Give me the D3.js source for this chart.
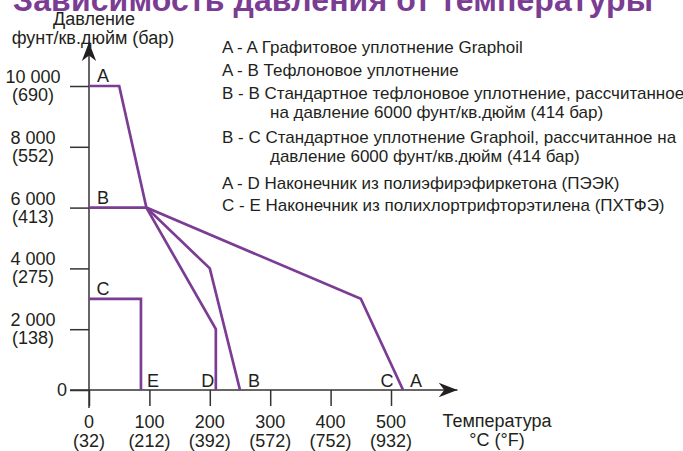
<!DOCTYPE html>
<html lang="ru">
<head>
    <meta charset="UTF-8">
    <title>Зависимость давления от температуры</title>
    <script src="https://d3js.org/d3.v7.min.js"></script>
    <style>
        body { margin: 0; background: #fff; }
        svg text { font-family: "Liberation Sans", Arial, sans-serif; fill: #231f20; }
    </style>
</head>
<body>
    <script>
        const width = 683;
        const height = 451;

        // температура, °C и °F
        const tempTicks = [0, 100, 200, 300, 400, 500];
        const tempTicksF = ["(32)", "(212)", "(392)", "(572)", "(752)", "(932)"];
        // давление, psi и бар
        const pressTicks = [0, 2000, 4000, 6000, 8000, 10000];
        const pressLabels = ["0", "2 000", "4 000", "6 000", "8 000", "10 000"];
        const pressTicksBar = ["", "(138)", "(275)", "(413)", "(552)", "(690)"];

        // кривые: [°C, psi]
        const curveAA = [[0, 10000], [50, 10000], [95, 6000], [450, 3000], [520, 0]];
        const curveBB = [[0, 6000], [95, 6000], [200, 4000], [250, 0]];
        const curveAD = [[95, 6000], [210, 2000], [210, 0]];
        const curveCE = [[0, 3000], [86, 3000], [86, 0]];
        const curves = [curveAA, curveBB, curveAD, curveCE];

        // буквы у начала кривых и у оси
        const startLabels = [["A", 0, 10000], ["B", 0, 6000], ["C", 0, 3000]];
        const endLabels = [["E", 86, 12], ["D", 210, -8], ["B", 250, 14], ["C", 520, -16], ["A", 520, 13]];

        const legendRows = [
            ["A - A Графитовое уплотнение Graphoil"],
            ["A - B Тефлоновое уплотнение"],
            ["B - B Стандартное тефлоновое уплотнение, рассчитанное", "на давление 6000 фунт/кв.дюйм (414 бар)"],
            ["B - C Стандартное уплотнение Graphoil, рассчитанное на", "давление 6000 фунт/кв.дюйм (414 бар)"],
            ["A - D Наконечник из полиэфирэфиркетона (ПЭЭК)"],
            ["C - E Наконечник из полихлортрифторэтилена (ПХТФЭ)"]
        ];

        const purple = "#7b3c94";
        const axisColor = "#333";

        const svg = d3.select("body").append("svg")
            .attr("width", width)
            .attr("height", height);

        const x = d3.scaleLinear().domain([0, 500]).range([89, 391]);
        const y = d3.scaleLinear().domain([0, 10000]).range([390, 86]);

        svg.append("defs").append("marker")
            .attr("id", "arrow")
            .attr("markerUnits", "userSpaceOnUse")
            .attr("markerWidth", 22).attr("markerHeight", 22)
            .attr("viewBox", "-18 -9 20 18")
            .attr("refX", 0).attr("refY", 0)
            .attr("orient", "auto")
            .append("path")
            .attr("d", "M0,0 L-17,-6.5 L-12,0 L-17,6.5 Z")
            .attr("fill", "#231f20");

        // заголовок, обрезанный сверху
        svg.append("text")
            .attr("x", 333).attr("y", 11)
            .attr("text-anchor", "middle")
            .attr("textLength", 640)
            .style("font-size", "32px")
            .style("font-weight", "bold")
            .style("fill", purple)
            .text("Зависимость давления от температуры");

        // оси
        const xAxis = d3.axisBottom(x).tickValues(tempTicks).tickSize(16).tickFormat("");
        const yAxis = d3.axisLeft(y).tickValues(pressTicks).tickSize(19).tickFormat("");

        const gx = svg.append("g").attr("transform", `translate(0,${y(0)})`).call(xAxis);
        const gy = svg.append("g").attr("transform", `translate(${x(0)},0)`).call(yAxis);
        gx.select(".domain").remove();
        gy.select(".domain").remove();
        svg.selectAll(".tick line").attr("stroke", axisColor).attr("stroke-width", 1.5);

        svg.append("line")
            .attr("x1", x(0) - 19).attr("x2", x(610))
            .attr("y1", y(0)).attr("y2", y(0))
            .attr("stroke", axisColor).attr("stroke-width", 1.5)
            .attr("marker-end", "url(#arrow)");
        svg.append("line")
            .attr("x1", x(0)).attr("x2", x(0))
            .attr("y1", y(0) + 18).attr("y2", y(11440))
            .attr("stroke", axisColor).attr("stroke-width", 1.5)
            .attr("marker-end", "url(#arrow)");

        // подписи оси X
        tempTicks.forEach((t, i) => {
            const tx = svg.append("text")
                .attr("text-anchor", "middle")
                .style("font-size", "18px");
            tx.append("tspan").attr("x", x(t)).attr("y", 428).text(t);
            tx.append("tspan").attr("x", x(t)).attr("y", 447).text(tempTicksF[i]);
        });

        // подписи оси Y
        pressTicks.forEach((p, i) => {
            if (!pressTicksBar[i]) {
                svg.append("text")
                    .attr("x", 67).attr("y", y(p) + 6)
                    .attr("text-anchor", "end")
                    .style("font-size", "18px")
                    .text(pressLabels[i]);
                return;
            }
            const ty = svg.append("text")
                .attr("text-anchor", "middle")
                .style("font-size", "18px");
            ty.append("tspan").attr("x", 33).attr("y", y(p) - 3).text(pressLabels[i]);
            ty.append("tspan").attr("x", 33).attr("y", y(p) + 15).text(pressTicksBar[i]);
        });

        // названия осей
        const yTitle = svg.append("text").attr("text-anchor", "middle").style("font-size", "18px");
        yTitle.append("tspan").attr("x", 94).attr("y", 25).text("Давление");
        yTitle.append("tspan").attr("x", 93).attr("y", 44).text("фунт/кв.дюйм (бар)");

        const xTitle = svg.append("text").attr("text-anchor", "middle").style("font-size", "18px");
        xTitle.append("tspan").attr("x", 497).attr("y", 427).text("Температура");
        xTitle.append("tspan").attr("x", 497).attr("y", 446).text("°C (°F)");

        // кривые
        const line = d3.line().x(d => x(d[0])).y(d => y(d[1]));
        svg.selectAll(".curve")
            .data(curves)
            .enter().append("path")
            .attr("class", "curve")
            .attr("d", line)
            .attr("fill", "none")
            .attr("stroke", purple)
            .attr("stroke-width", 2.7)
            .attr("stroke-linejoin", "miter");

        svg.selectAll(".start-label")
            .data(startLabels)
            .enter().append("text")
            .attr("class", "start-label")
            .attr("x", d => x(d[1]) + 14)
            .attr("y", d => y(d[2]) - 4)
            .attr("text-anchor", "middle")
            .style("font-size", "18px")
            .text(d => d[0]);

        svg.selectAll(".end-label")
            .data(endLabels)
            .enter().append("text")
            .attr("class", "end-label")
            .attr("x", d => x(d[1]) + d[2])
            .attr("y", y(0) - 3)
            .attr("text-anchor", "middle")
            .style("font-size", "18px")
            .text(d => d[0]);

        // легенда
        const rowY = [53, 76, 99, 143, 189, 211];
        legendRows.forEach((row, i) => {
            const t = svg.append("text").style("font-size", "17px");
            t.append("tspan").attr("x", 222).attr("y", rowY[i]).text(row[0]);
            if (row[1]) {
                t.append("tspan").attr("x", 270).attr("y", rowY[i] + 19).text(row[1]);
            }
        });
    </script>
</body>
</html>
